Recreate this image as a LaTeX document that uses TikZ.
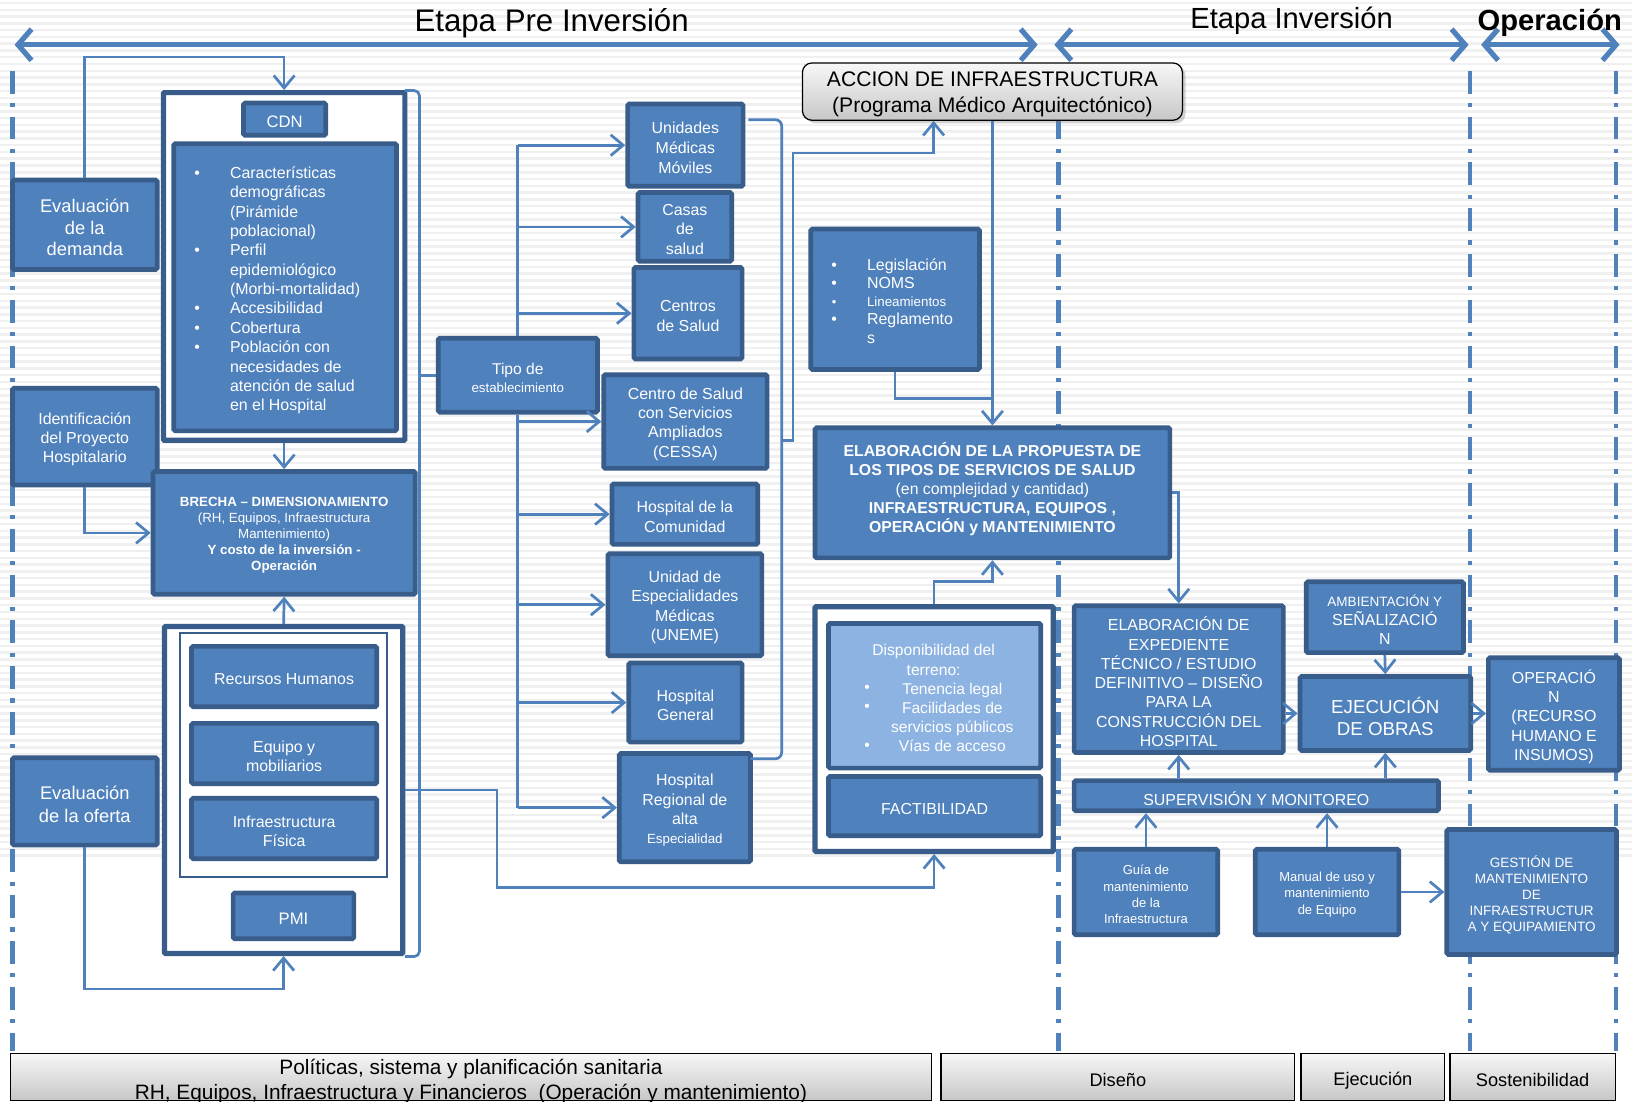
\documentclass[tikz,border=0pt]{standalone}
\usepackage{fontspec}
\setmainfont{Liberation Sans}
\usetikzlibrary{arrows.meta,shadows}
\definecolor{bfill}{HTML}{4F81BD}
\definecolor{bedge}{HTML}{385D8A}
\definecolor{blight}{HTML}{8DB3E2}
\newcommand\fs[2]{\fontsize{#1}{#2}\selectfont}
\newcommand\rx[7]{\node[#1,minimum width={(#5-#3)*1pt},minimum height={(#6-#4)*1pt}] (#2) at ({(#3+#5)/2},{(#4+#6)/2}) {};
  \node[#1,draw=none,fill=none,minimum width=0pt,minimum height=0pt] (#2t) at ({(#3+#5)/2},{(#4+#6)/2+2.5}) {#7};}
\newcommand\bul{\llap{•\hspace{29pt}}}
\begin{document}
\begin{tikzpicture}[x=1pt,y=-1pt,
 box/.style={draw=bedge,fill=bfill,line width=4.5pt,rounded corners=1.5pt,text=white,align=center,inner sep=0pt,font=\fs{15.3}{18.5}},
 frame/.style={draw=bedge,fill=white,line width=5pt,rounded corners=1pt,inner sep=0pt},
 thinframe/.style={draw=bedge,fill=white,line width=2pt,inner sep=0pt},
 gbox/.style={draw=black,line width=1.2pt,top color=black!3,bottom color=black!22,inner sep=0pt},
 gtxt/.style={align=center,inner sep=0pt,text=black},
 txt/.style={text=white,inner sep=0pt,font=\fs{15.3}{18.5}},
 link/.style={draw=bfill,line width=2.6pt},
 arr/.style={-{Straight Barb[length=12pt,width=20pt]}},
 bigarr/.style={draw=bfill,line width=5pt,{Straight Barb[length=13pt,width=30pt]}-{Straight Barb[length=13pt,width=30pt]}},
 phase/.style={draw=bfill,line width=4pt,dash pattern=on 22pt off 9pt on 4pt off 9pt},
 ttl/.style={inner sep=0pt,text=black}]

\useasboundingbox (0,0) rectangle (1568,1058);
\fill[white] (0,0) rectangle (1568,1058);
\foreach \yy in {3,9.5,...,824} \draw[black!6,line width=2.4pt] (0,\yy) -- (1568,\yy);

% phase separators
\foreach \xx in {12,1017,1412,1553} \draw[phase] (\xx,68) -- (\xx,1010);

% top phase arrows and titles
\coordinate (p1l) at (14,43); \coordinate (p1r) at (997,43);
\coordinate (p2l) at (1013,43); \coordinate (p2r) at (1411,43);
\coordinate (p3l) at (1423,43); \coordinate (p3r) at (1556,43);
\draw[bigarr] (p1l) -- (p1r);
\draw[bigarr] (p2l) -- (p2r);
\draw[bigarr] (p3l) -- (p3r);
\node[ttl,font=\fs{30}{30}] (t1) at (530,22) {Etapa Pre Inversión};
\node[ttl,font=\fs{28}{28}] (t2) at (1241,20) {Etapa Inversión};
\node[ttl,font=\bfseries\fs{28}{28}] (t3) at (1489,22) {Operación};

% left column
\rx{box,font=\fs{17.6}{21}}{evd}{12}{173}{151}{259}{Evaluación\\de la\\demanda}
\rx{box}{idp}{12}{373}{151}{466}{Identificación\\del Proyecto\\Hospitalario}
\rx{box,font=\fs{17.6}{22}}{evo}{12}{728}{151}{812}{Evaluación\\de la oferta}

% frame 1
\rx{frame}{fr1}{157}{89}{389}{423}{}
\rx{box,font=\fs{16}{19}}{cdn}{234}{99}{313}{130}{CDN}
\rx{box}{cdnb}{167}{138}{381}{414}{}
\node[txt,align=left,font=\fs{15.3}{18.6}] (cdnl) at (283.5,279) {\bul Características\\demográficas\\(Pirámide\\poblacional)\\\bul Perfil\\epidemiológico\\(Morbi-mortalidad)\\\bul Accesibilidad\\\bul Cobertura\\\bul Población con\\necesidades de\\atención de salud\\en el Hospital};

% brecha
\rx{box,font=\fs{12.8}{15.3}}{brecha}{147}{453}{399}{571}{\textbf{BRECHA – DIMENSIONAMIENTO}\\(RH, Equipos, Infraestructura\\Mantenimiento)\\\textbf{Y costo de la inversión -}\\\textbf{Operación}}

% frame 2
\rx{frame}{fr2}{158}{602}{387}{916}{}
\rx{thinframe}{fr2i}{173}{608}{372}{843}{}
\rx{box}{rh}{184}{621}{362}{679}{Recursos Humanos}
\rx{box}{eq}{184}{695}{362}{753}{Equipo y\\mobiliarios}
\rx{box}{inf}{184}{767}{362}{825}{Infraestructura\\Física}
\rx{box,font=\fs{16}{19}}{pmi}{224}{858}{340}{902}{PMI}

% left connectors
\draw[link,arr] (evd.north) -- ++(0,-116) -| (fr1.north);
\draw[link,arr] (fr1.south) -- (brecha.north);
\draw[link,arr] (idp.south) |- (brecha.west);
\draw[link,arr] (fr2.north) -- (brecha.south);
\draw[link,arr] (evo.south) -- ++(0,136) -| (fr2.south);
\coordinate (lb) at (403,0);
\draw[link,rounded corners=5pt] (389,87) -| (403,500) |- (389,919);

% tipo de establecimiento
\rx{box,font=\fs{15}{17}}{tipo}{421}{325}{574}{396}{Tipo de\\{\fs{12.8}{15}establecimiento}}
\draw[link] (tipo.west -| lb) -- (tipo.west);

\rx{box,font=\fs{15.3}{19}}{umm}{603}{100}{714}{179}{Unidades\\Médicas\\Móviles}
\rx{box,font=\fs{15.3}{19}}{casas}{613}{185}{703}{251}{Casas\\de\\salud}
\rx{box}{centros}{609}{257}{713}{345}{Centros\\de Salud}
\rx{box}{cessa}{580}{360}{737}{450}{Centro de Salud\\con Servicios\\Ampliados\\(CESSA)}
\rx{box}{hcom}{588}{465}{728}{523}{Hospital de la\\Comunidad}
\rx{box}{uneme}{584}{532}{732}{630}{Unidad de\\Especialidades\\Médicas\\(UNEME)}
\rx{box}{hg}{604}{637}{713}{713}{Hospital\\General}
\rx{box}{hr}{595}{724}{721}{828}{Hospital\\Regional de\\alta\\{\fs{12.8}{15}Especialidad}}

\draw[link] (tipo.north) -- (tipo.north |- umm.west);
\draw[link] (tipo.south) -- (tipo.south |- hr.west);
\foreach \t in {umm,casas,centros,cessa,hcom,uneme,hg,hr}
  \draw[link,arr] (tipo.north |- \t.west) -- (\t.west);

% right bracket of establishments
\coordinate (rb1) at (719,115);
\coordinate (rb2) at (721,729);
\draw[link,rounded corners=6pt] (rb1) -| (751,400) |- (rb2);

% accion
\node[gbox,rounded corners=9pt,drop shadow={shadow xshift=3pt,shadow yshift=-3pt,opacity=.35},minimum width=365pt,minimum height=55pt] (accion) at (953.5,88) {};
\node[gtxt,font=\fs{20.3}{25}] (acciont) at (953.5,91) {ACCION DE INFRAESTRUCTURA\\(Programa Médico Arquitectónico)};
\coordinate (rbm) at (751,423);
\coordinate (c147) at (897,147);
\draw[link,arr] (rbm) -- ++(11,0) |- (c147) -- (c147 |- accion.south);

% legislacion
\rx{box}{leg}{779}{220}{941}{355}{}
\node[txt,align=left,font=\fs{15.3}{17.5}] (legl) at (874.3,289) {\bul Legislación\\\bul NOMS\\\llap{{\fs{12.5}{13}•}\hspace{29.5pt}}{\fs{12.8}{13}Lineamientos}\\\bul Reglamento\\s};

% elaboracion propuesta
\rx{box}{elab}{783}{411}{1124}{536}{}
\node[txt,align=center,font=\fs{15.2}{18.3}] (elabt) at (953.5,470) {\textbf{ELABORACIÓN DE LA PROPUESTA DE}\\\textbf{LOS TIPOS DE SERVICIOS DE SALUD}\\(en complejidad y cantidad)\\\textbf{INFRAESTRUCTURA, EQUIPOS ,}\\\textbf{OPERACIÓN y MANTENIMIENTO}};
\coordinate (j383) at (953.5,383);
\draw[link,arr] (accion.south) -- (elab.north);
\draw[link] (leg.south) |- (j383);

% factibilidad
\rx{frame}{ffr}{783}{583}{1012}{818}{}
\rx{box,fill=blight}{disp}{796}{599}{1000}{738}{}
\node[txt,align=center,font=\fs{15}{18.4}] (dispa) at (897,634) {Disponibilidad del\\terreno:};
\node[txt,align=center,font=\fs{15}{18.4}] (dispb) at (915,689.5) {Tenencia legal\\Facilidades de\\servicios públicos\\Vías de acceso};
\node[txt,align=center,font=\fs{15}{18.4}] (dispc) at (833,689.5) {•\\•\\\mbox{}\\•};
\rx{box}{fact}{796}{746}{1000}{803}{FACTIBILIDAD}
\draw[link,arr] (ffr.north) -- ++(0,-22) -| (elab.south);
\draw[link,arr] (fr2.east) -- ++(88,0) -- ++(0,94) -| (ffr.south);

% right section
\rx{box}{exp}{1032}{582}{1233}{723}{ELABORACIÓN DE\\EXPEDIENTE\\TÉCNICO / ESTUDIO\\DEFINITIVO – DISEÑO\\PARA LA\\CONSTRUCCIÓN DEL\\HOSPITAL}
\rx{box}{amb}{1255}{559}{1406}{627}{{\fs{13}{15}AMBIENTACIÓN Y}\\SEÑALIZACIÓ\\N}
\rx{box,font=\fs{18}{21}}{ejec}{1249}{650}{1413}{721}{EJECUCIÓN\\DE OBRAS}
\rx{box}{oper}{1430}{632}{1556}{740}{OPERACIÓ\\N\\(RECURSO\\HUMANO E\\INSUMOS)}
\rx{box}{sup}{1032}{750}{1382}{779}{SUPERVISIÓN Y MONITOREO}
\rx{box,font=\fs{12.5}{15.7}}{guia}{1032}{816}{1170}{898}{Guía de\\mantenimiento\\de la\\Infraestructura}
\rx{box,font=\fs{12.5}{15.5}}{man}{1206}{816}{1344}{898}{Manual de uso y\\mantenimiento\\de Equipo}
\rx{box,font=\fs{13}{15.3}}{gest}{1390}{797}{1553}{917}{GESTIÓN DE\\MANTENIMIENTO\\DE\\INFRAESTRUCTUR\\A Y EQUIPAMIENTO}

\draw[link,arr] (elab.east) -| (exp.north);
\draw[link,arr] (exp.east |- ejec.west) -- (ejec.west);
\draw[link,arr] (ejec.east) -- (oper.west |- ejec.east);
\draw[link,arr] (amb.south) -- (ejec.north);
\draw[link,arr] (sup.north -| exp.south) -- (exp.south);
\draw[link,arr] (sup.north -| ejec.south) -- (ejec.south);
\draw[link,arr] (guia.north) -- (guia.north |- sup.south);
\draw[link,arr] (man.north) -- (man.north |- sup.south);
\draw[link,arr] (man.east) -- (gest.west |- man.east);

% bottom bars
\node[gbox,minimum width=885pt,minimum height=45pt] (pol) at (452.5,1034.5) {};
\node[gtxt,font=\fs{20}{24}] (polt) at (452.5,1039) {Políticas, sistema y planificación sanitaria\\RH, Equipos, Infraestructura y Financieros~~(Operación y mantenimiento)};
\node[gbox,minimum width=340pt,minimum height=45pt] (dis) at (1074,1034.5) {};
\node[gtxt,font=\fs{17.5}{20}] (dist) at (1074,1038) {Diseño};
\node[gbox,minimum width=138pt,minimum height=45pt] (eje) at (1319,1034.5) {};
\node[gtxt,font=\fs{17.5}{20}] (ejet) at (1319,1038) {Ejecución};
\node[gbox,minimum width=159pt,minimum height=45pt] (sos) at (1472.5,1034.5) {};
\node[gtxt,font=\fs{17.5}{20}] (sost) at (1472.5,1038) {Sostenibilidad};
\end{tikzpicture}
\end{document}
